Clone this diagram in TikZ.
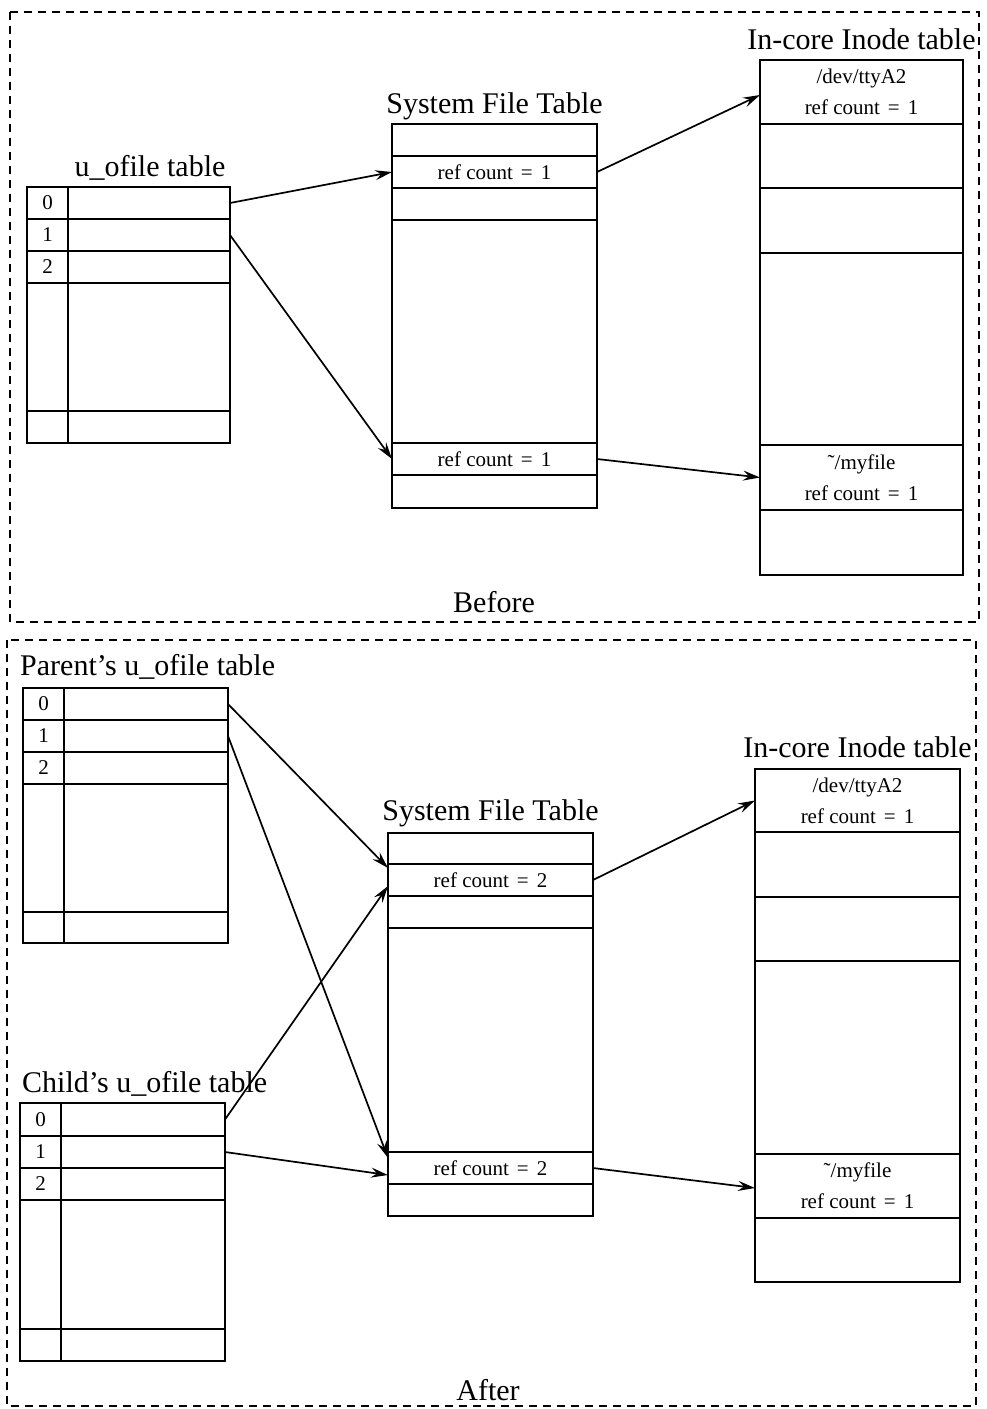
\documentclass[tikz,border=0pt]{standalone}
\usepackage{fontspec}
\setmainfont{Liberation Serif}
\usetikzlibrary{arrows.meta}
\newcommand{\rc}[1]{ref count\hspace{0.38em}=\hspace{0.38em}#1}
\newcommand{\tld}{\char"02DC}
\tikzset{
  frame/.style={line width=1.8pt, dash pattern=on 8pt off 6pt},
  cell/.style={draw, line width=1.5pt, anchor=north west, inner sep=0pt, outer sep=0pt,
    font=\fontsize{21}{31}\selectfont, align=center},
  ttl/.style={font=\fontsize{30}{36}\selectfont, inner sep=0pt},
  ptr/.style={line width=1.7pt, -{Stealth[length=17pt,width=10pt,inset=6pt]}},
}
\begin{document}
\begin{tikzpicture}[x=1pt,y=-1pt]
\useasboundingbox (0,0) rectangle (987,1409);
\fill[white] (0,0) rectangle (987,1409);
% frames
\draw[frame] (10,12) rectangle (979,622);
\draw[frame] (7,640) rectangle (976,1406);

%%%%%%%%%%%%%%%% BEFORE %%%%%%%%%%%%%%%%
\node[ttl, anchor=base] (tU) at (150,176) {u\_ofile table};
\node[cell, minimum width=41pt, minimum height=32pt] (bi0) at (27,187) {0};
\node[cell, minimum width=162pt, minimum height=32pt] (bc0) at (68,187) {};
\node[cell, minimum width=41pt, minimum height=32pt] (bi1) at (27,219) {1};
\node[cell, minimum width=162pt, minimum height=32pt] (bc1) at (68,219) {};
\node[cell, minimum width=41pt, minimum height=32pt] (bi2) at (27,251) {2};
\node[cell, minimum width=162pt, minimum height=32pt] (bc2) at (68,251) {};
\node[cell, minimum width=41pt, minimum height=128pt] (bi3) at (27,283) {};
\node[cell, minimum width=162pt, minimum height=128pt] (bc3) at (68,283) {};
\node[cell, minimum width=41pt, minimum height=32pt] (bi4) at (27,411) {};
\node[cell, minimum width=162pt, minimum height=32pt] (bc4) at (68,411) {};

\node[ttl, anchor=base] (tS) at (494.5,113) {System File Table};
\node[cell, minimum width=205pt, minimum height=32pt] (sft0) at (392,124) {};
\node[cell, minimum width=205pt, minimum height=32pt] (sft1) at (392,156) {\rc{1}};
\node[cell, minimum width=205pt, minimum height=32pt] (sft2) at (392,188) {};
\node[cell, minimum width=205pt, minimum height=223pt] (sft3) at (392,220) {};
\node[cell, minimum width=205pt, minimum height=32pt] (sft5) at (392,443) {\rc{1}};
\node[cell, minimum width=205pt, minimum height=33pt] (sft6) at (392,475) {};

\node[ttl, anchor=base] (tI) at (861.5,49) {In-core Inode table};
\node[cell, minimum width=203pt, minimum height=64pt] (ic0) at (760,60) {/dev/ttyA2\\\rc{1}};
\node[cell, minimum width=203pt, minimum height=64pt] (ic1) at (760,124) {};
\node[cell, minimum width=203pt, minimum height=65pt] (ic2) at (760,188) {};
\node[cell, minimum width=203pt, minimum height=192pt] (ic3) at (760,253) {};
\node[cell, minimum width=203pt, minimum height=65pt] (ic4) at (760,445) {\tld/myfile\\\rc{1}};
\node[cell, minimum width=203pt, minimum height=65pt] (ic5) at (760,510) {};

\draw[ptr] (bc0.east) -- (sft1.west);
\draw[ptr] (bc1.east) -- (sft5.west);
\draw[ptr] (sft1.east) -- ([yshift=-3pt]ic0.west);
\draw[ptr] (sft5.east) -- (ic4.west);

\node[ttl, anchor=base] (tB) at (494,612) {Before};

%%%%%%%%%%%%%%%% AFTER %%%%%%%%%%%%%%%%
\node[ttl, anchor=base west] (tP) at (20,675) {Parent's u\_ofile table};
\node[cell, minimum width=41pt, minimum height=32pt] (pi0) at (23,688) {0};
\node[cell, minimum width=164pt, minimum height=32pt] (pc0) at (64,688) {};
\node[cell, minimum width=41pt, minimum height=32pt] (pi1) at (23,720) {1};
\node[cell, minimum width=164pt, minimum height=32pt] (pc1) at (64,720) {};
\node[cell, minimum width=41pt, minimum height=32pt] (pi2) at (23,752) {2};
\node[cell, minimum width=164pt, minimum height=32pt] (pc2) at (64,752) {};
\node[cell, minimum width=41pt, minimum height=128pt] (pi3) at (23,784) {};
\node[cell, minimum width=164pt, minimum height=128pt] (pc3) at (64,784) {};
\node[cell, minimum width=41pt, minimum height=31pt] (pi4) at (23,912) {};
\node[cell, minimum width=164pt, minimum height=31pt] (pc4) at (64,912) {};

\node[ttl, anchor=base west] (tC) at (22,1092) {Child's u\_ofile table};
\node[cell, minimum width=41pt, minimum height=33pt] (ci0) at (20,1103) {0};
\node[cell, minimum width=164pt, minimum height=33pt] (cc0) at (61,1103) {};
\node[cell, minimum width=41pt, minimum height=32pt] (ci1) at (20,1136) {1};
\node[cell, minimum width=164pt, minimum height=32pt] (cc1) at (61,1136) {};
\node[cell, minimum width=41pt, minimum height=32pt] (ci2) at (20,1168) {2};
\node[cell, minimum width=164pt, minimum height=32pt] (cc2) at (61,1168) {};
\node[cell, minimum width=41pt, minimum height=129pt] (ci3) at (20,1200) {};
\node[cell, minimum width=164pt, minimum height=129pt] (cc3) at (61,1200) {};
\node[cell, minimum width=41pt, minimum height=32pt] (ci4) at (20,1329) {};
\node[cell, minimum width=164pt, minimum height=32pt] (cc4) at (61,1329) {};

\node[ttl, anchor=base] (tS2) at (490.5,820) {System File Table};
\node[cell, minimum width=205pt, minimum height=31pt] (asft0) at (388,833) {};
\node[cell, minimum width=205pt, minimum height=32pt] (asft1) at (388,864) {\rc{2}};
\node[cell, minimum width=205pt, minimum height=32pt] (asft2) at (388,896) {};
\node[cell, minimum width=205pt, minimum height=224pt] (asft3) at (388,928) {};
\node[cell, minimum width=205pt, minimum height=32pt] (asft5) at (388,1152) {\rc{2}};
\node[cell, minimum width=205pt, minimum height=32pt] (asft6) at (388,1184) {};

\node[ttl, anchor=base] (tI2) at (857.5,757) {In-core Inode table};
\node[cell, minimum width=205pt, minimum height=63pt] (aic0) at (755,769) {/dev/ttyA2\\\rc{1}};
\node[cell, minimum width=205pt, minimum height=65pt] (aic1) at (755,832) {};
\node[cell, minimum width=205pt, minimum height=64pt] (aic2) at (755,897) {};
\node[cell, minimum width=205pt, minimum height=193pt] (aic3) at (755,961) {};
\node[cell, minimum width=205pt, minimum height=64pt] (aic4) at (755,1154) {\tld/myfile\\\rc{1}};
\node[cell, minimum width=205pt, minimum height=64pt] (aic5) at (755,1218) {};

\draw[ptr] (pc0.east) -- ([yshift=12pt]asft1.west);
\draw[ptr] (cc0.east) -- ([yshift=-6pt]asft1.west);
\draw[ptr] (pc1.east) -- ([yshift=10pt]asft5.west);
\draw[ptr] (cc1.east) -- ([yshift=-7pt]asft5.west);
\draw[ptr] (asft1.east) -- (aic0.west);
\draw[ptr] (asft5.east) -- ([yshift=-2pt]aic4.west);

\node[ttl, anchor=base] (tA) at (488,1400) {After};
\end{tikzpicture}
\end{document}
